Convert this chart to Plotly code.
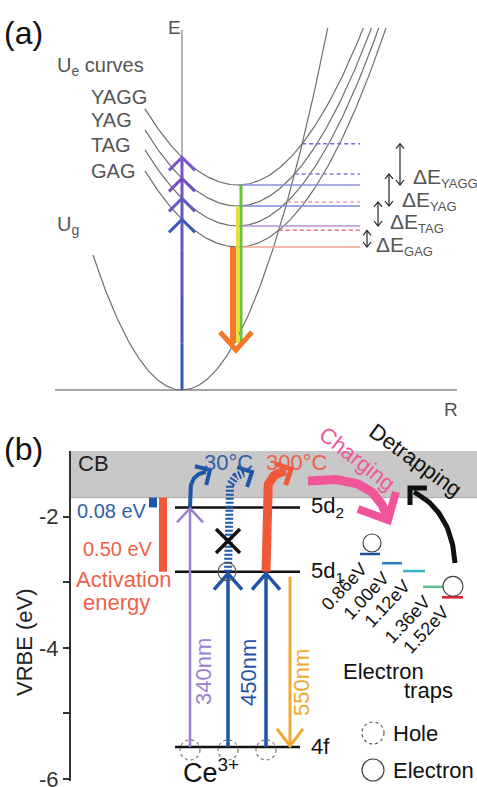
import numpy as np
import plotly.graph_objects as go

W, H = 477, 787
FONT = "Liberation Sans, Arial, sans-serif"

# ---------------- data ----------------
# (a) configuration-coordinate diagram (arbitrary units, measured from the Ug minimum)
ue_labels = ["YAGG", "YAG", "TAG", "GAG"]
ue_min_E = [205, 184, 164, 143]          # energies of the Ue minima
ue_min_R = 56                            # offset of the Ue minima along R
ug_k = 0.01704                           # curvature of Ug
ue_k_left = 0.0088                       # curvature of Ue (left branch)
ue_k_right = 0.0100                      # curvature of Ue (right branch)
curve_E_max = 362
ue_R_start = -37
ug_R_start = -89

# (b) VRBE scheme of Ce3+ (eV)
vrbe_range = [-6.03, -1.0]
vrbe_tickvals = [-6, -4, -2]
vrbe_ticktext = ["-6", "-4", "-2"]
vrbe_minor = [-5, -3]
cb_bottom = -1.71
level_names = ["5d<sub>2</sub>", "5d<sub>1</sub>", "4f"]
level_E = [-1.86, -2.84, -5.51]
trap_depths = [0.86, 1.00, 1.12, 1.36, 1.52]
trap_labels = ["0.86eV", "1.00eV", "1.12eV", "1.36eV", "1.52eV"]
activation_labels = ["0.08 eV", "0.50 eV"]
wavelength_labels = ["340nm", "450nm", "550nm"]
temperature_labels = ["30°C", "300°C"]

# ---------------- styles ----------------
GRAY_TXT = "#555555"
CURVE = "#6e6e6e"
solid_level_colors = ["#9090dc", "#8086d4", "#b592d8", "#f2a488"]
dash_level_colors = ["#6c70cc", "#7b80d2", "#e59ab8", "#e5748e"]
chev_colors = ["#7d55c6", "#7451c2", "#5f5bc0", "#3f5cb4"]
trap_colors = ["#1f4e9a", "#2a78c0", "#38b2c0", "#5cc08c", "#e0202a"]
BLUE = "#1f55a8"
BLUE_TXT = "#2f5fa8"
PURPLE = "#9b80d2"
ORANGE = "#f0a830"
RED = "#f0583a"
RED_TXT = "#f0604a"
PINK = "#f0559a"

# pixel geometry helpers
A_X0, A_Y0 = 182, 390           # pixel of the Ug minimum in panel (a)
B_TOP, B_BOT = 451, 781         # pixel extent of the VRBE axis


def eb(py):
    return vrbe_range[1] - (py - B_TOP) * (vrbe_range[1] - vrbe_range[0]) / (B_BOT - B_TOP)


def pyb(e):
    return B_TOP + (vrbe_range[1] - e) * (B_BOT - B_TOP) / (vrbe_range[1] - vrbe_range[0])


fig = go.Figure()


def add_line(xs, ys, color, width, panel, dash=None):
    fig.add_trace(go.Scatter(
        x=list(xs), y=list(ys), mode="lines",
        line=dict(color=color, width=width, dash=dash),
        xaxis="x" if panel == "a" else "x2", yaxis="y" if panel == "a" else "y2",
        hoverinfo="skip", showlegend=False))


def add_px(pts, color, width, panel, dash=None):
    if panel == "a":
        xs = [p[0] - A_X0 for p in pts]
        ys = [A_Y0 - p[1] for p in pts]
    else:
        xs = [p[0] for p in pts]
        ys = [eb(p[1]) for p in pts]
    add_line(xs, ys, color, width, panel, dash)


def chevron(tip, d, half, depth):
    dx, dy = d
    L = np.hypot(dx, dy)
    dx, dy = dx / L, dy / L
    nx, ny = -dy, dx
    bx, by = tip[0] - depth * dx, tip[1] - depth * dy
    return [(bx + half * nx, by + half * ny), tip, (bx - half * nx, by - half * ny)]


def bezier(p0, p1, p2, n=40):
    t = np.linspace(0, 1, n)
    x = (1 - t) ** 2 * p0[0] + 2 * (1 - t) * t * p1[0] + t ** 2 * p2[0]
    y = (1 - t) ** 2 * p0[1] + 2 * (1 - t) * t * p1[1] + t ** 2 * p2[1]
    return list(zip(x, y))


def text(s, px, py, size, color, xanchor="center", yanchor="middle", angle=0):
    fig.add_annotation(text=s, x=px / W, y=1 - py / H, xref="paper", yref="paper",
                       showarrow=False, xanchor=xanchor, yanchor=yanchor,
                       textangle=angle, font=dict(size=size, color=color, family=FONT))


def circle_b(cx, cy, r, color, dash="solid", width=1.2):
    fig.add_shape(type="circle", xref="x2", yref="y2",
                  x0=cx - r, x1=cx + r, y0=eb(cy + r), y1=eb(cy - r),
                  line=dict(color=color, width=width, dash=dash), layer="above")


# ================= panel (a) =================
def ue(R, Emin):
    R = np.asarray(R, dtype=float)
    return np.where(R < ue_min_R, Emin + ue_k_left * (R - ue_min_R) ** 2,
                    Emin + ue_k_right * (R - ue_min_R) ** 2)


# axes
add_line([0, 0], [0, A_Y0 - 30], "#808080", 1.2, "a")
add_line([55 - A_X0, 457 - A_X0], [0, 0], "#8a8a8a", 1.5, "a")

# Ug parabola
Rg = np.linspace(ug_R_start, np.sqrt(curve_E_max / ug_k), 200)
add_line(Rg, ug_k * Rg ** 2, CURVE, 1.2, "a")

# Ue curves, crossings, levels
level_end_R = 360 - A_X0
darrow_px = [400, 389, 378, 367]
crossings = []
for i, Emin in enumerate(ue_min_E):
    R_end = ue_min_R + np.sqrt((curve_E_max - Emin) / ue_k_right)
    R = np.linspace(ue_R_start, R_end, 200)
    add_line(R, ue(R, Emin), CURVE, 1.2, "a")
    Rf = np.linspace(ue_min_R, R_end, 4000)
    diff = ug_k * Rf ** 2 - ue(Rf, Emin)
    j = np.argmax(diff > 0)
    Rc, Ec = Rf[j], float(ue(Rf[j], Emin))
    crossings.append((Rc, Ec))

for i, Emin in enumerate(ue_min_E):
    add_line([ue_min_R, level_end_R], [Emin, Emin], solid_level_colors[i], 1.5, "a")
for i, Emin in enumerate(ue_min_E):
    Rc, Ec = crossings[i]
    add_line([Rc, level_end_R], [Ec, Ec], dash_level_colors[i], 1.5, "a", dash="4px,3px")
    # Delta E double arrow
    xa = darrow_px[i]
    top, bot = A_Y0 - Ec, A_Y0 - Emin
    add_px([(xa, top), (xa, bot)], "#222222", 1.2, "a")
    add_px(chevron((xa, top), (0, -1), 4, 5), "#222222", 1.2, "a")
    add_px(chevron((xa, bot), (0, 1), 4, 5), "#222222", 1.2, "a")

# absorption arrow (vertical at R = 0)
tips_E = [float(ue(0, e)) for e in ue_min_E]
seg_cols = ["#3a57b6", "#4a55b8", "#5a53bb", "#6a52be", "#7852c2"]
edges = np.linspace(0, max(tips_E), len(seg_cols) + 1)
for k, c in enumerate(seg_cols):
    add_line([0, 0], [edges[k], edges[k + 1]], c, 3, "a")
for i, Et in enumerate(tips_E):
    add_px(chevron((A_X0, A_Y0 - Et), (0, -1), 13, 13), chev_colors[i], 3, "a")

# emission arrow
add_px([(233, A_Y0 - ue_min_E[3]), (233, 343)], "#f07a2a", 6, "a")
add_px([(237.5, A_Y0 - ue_min_E[1]), (237.5, 343)], "#e6e040", 3, "a")
add_px([(241, A_Y0 - ue_min_E[0]), (241, 343)], "#6cc040", 3, "a")
add_px(chevron((236, 350), (0, 1), 16, 18), "#f07a2a", 5, "a")

# texts (a)
text("(a)", 2, 33, 32, "#111111", xanchor="left")
text("E", 174, 27, 19, GRAY_TXT)
text("R", 451, 409, 19, GRAY_TXT)
text("U<sub>e</sub> curves", 55, 66, 20, GRAY_TXT, xanchor="left")
for i, lab in enumerate(ue_labels):
    text(lab, 89, [97, 120, 145, 171][i], 20, GRAY_TXT, xanchor="left")
text("U<sub>g</sub>", 55, 225, 20, GRAY_TXT, xanchor="left")
for i, lab in enumerate(ue_labels):
    text("ΔE<sub><span style='font-size:13px'>" + lab + "</span></sub>",
         [411, 400, 388, 374][i], [178, 201, 223, 246][i], 21, GRAY_TXT, xanchor="left")

# ================= panel (b) =================
fig.add_shape(type="rect", xref="x2", yref="y2", x0=71, x1=477,
              y0=cb_bottom, y1=vrbe_range[1], fillcolor="#c8c8c8",
              line=dict(width=0), layer="below")
add_line([71, 477], [cb_bottom, cb_bottom], "#a8a8a8", 1, "b")

# Ce levels
for i, e in enumerate(level_E):
    add_line([175, 300], [e, e], "#111111", 2.5, "b")
    text(level_names[i], 309, pyb(e), 22, "#111111", xanchor="left")

# activation energy bars
add_line([153, 153], [cb_bottom, level_E[0]], BLUE, 8, "b")
add_line([163, 163], [cb_bottom, level_E[1]], RED, 8, "b")

# excitation 340 nm (purple)
add_line([190, 190], [level_E[2], level_E[0]], PURPLE, 2.5, "b")
add_px(chevron((190, pyb(level_E[0]) + 1), (0, -1), 13, 14), PURPLE, 2.5, "b")
# excitation 450 nm (blue, two)
for xb in (228, 266):
    add_line([xb, xb], [level_E[2], level_E[1]], BLUE, 3.5, "b")
    add_px(chevron((xb, pyb(level_E[1]) + 2), (0, -1), 14, 16), BLUE, 3.5, "b")
# emission 550 nm (orange)
add_line([290, 290], [eb(pyb(level_E[1]) + 5), level_E[2]], ORANGE, 3, "b")
add_px(chevron((290, pyb(level_E[2]) - 1), (0, 1), 13, 17), ORANGE, 3, "b")

# 30 C thermal ionisation from 5d2
y2 = pyb(level_E[0])
add_px([(190, y2)] + bezier((190, y2 - 14), (190, 474), (206, 472)), BLUE, 4, "b")
add_px(chevron((210, 470), (1, -0.6), 11, 11), BLUE, 4, "b")
# hatched (blocked) path from 5d1
y1 = pyb(level_E[1])
add_px([(228, y1)] + bezier((228, 500), (228, 474), (246, 473)), BLUE, 8, "b", dash="2px,2px")
add_px(chevron((252, 472), (1, -0.5), 11, 11), BLUE, 4, "b")
# 300 C thermal ionisation from 5d1
add_px([(266, y1)] + bezier((266, 500), (266, 473), (286, 471)), RED, 9, "b")
add_px(chevron((291, 469), (1, -0.5), 12, 12), RED, 5, "b")
# blocked mark
add_px([(216, 529), (240, 553)], "#111111", 3.5, "b")
add_px([(216, 553), (240, 529)], "#111111", 3.5, "b")

# electron / hole circles on the Ce levels
circle_b(227, y1, 9, "#555555")
for xb in (190, 228, 266):
    circle_b(xb, pyb(level_E[2]) + 3, 10, "#8a7560", dash="dot")

# charging arrow (pink)
add_px(bezier((308, 481), (372, 472), (386, 514)), PINK, 9, "b")
add_px([(358, 509), (388, 520), (396, 492)], PINK, 8, "b")
# detrapping arrow (black)
add_px(bezier((455, 563), (452, 512), (414, 492)), "#111111", 5, "b")
add_px(chevron((410, 488), (-1, -1), 12, 12), "#111111", 5, "b")

# electron traps
trap_x = [(360, 380), (382, 402), (403, 425), (423, 443), (442, 463)]
for i, d in enumerate(trap_depths):
    e = cb_bottom - d
    add_line(list(trap_x[i]), [e, e], trap_colors[i], 2.5, "b")
    text(trap_labels[i], trap_x[i][0] - 16, pyb(e) + 33, 18, "#111111", angle=-47)
circle_b(372, pyb(cb_bottom - trap_depths[0]) - 11, 9, "#444444")
circle_b(453, pyb(cb_bottom - trap_depths[4]) - 11, 10, "#444444")

# texts (b)
text("(b)", 2, 449, 32, "#111111", xanchor="left")
text("CB", 76, 464, 22, "#222222", xanchor="left")
text(activation_labels[0], 75, 511, 20, BLUE_TXT, xanchor="left")
text(activation_labels[1], 81, 549, 20, RED_TXT, xanchor="left")
text("Activation", 124, 579, 22, RED_TXT)
text("energy", 116, 602, 22, RED_TXT)
text(temperature_labels[0], 228, 462, 22, BLUE_TXT)
text(temperature_labels[1], 297, 462, 22, RED_TXT)
text("Charging", 357, 458, 22, PINK, angle=38)
text("Detrapping", 416, 460, 22, "#111111", angle=36)
text(wavelength_labels[0], 203, 672, 22, PURPLE, angle=-90)
text(wavelength_labels[1], 248, 672, 22, BLUE, angle=-90)
text(wavelength_labels[2], 301, 683, 22, ORANGE, angle=-90)
text("Electron", 383, 671, 22, "#111111")
text("traps", 428, 690, 22, "#111111")
fig.add_shape(type="circle", xref="paper", yref="paper",
              x0=362 / W, x1=384 / W, y0=1 - 744 / H, y1=1 - 722 / H,
              line=dict(color="#555555", width=1.2, dash="dot"))
fig.add_shape(type="circle", xref="paper", yref="paper",
              x0=362 / W, x1=384 / W, y0=1 - 781 / H, y1=1 - 759 / H,
              line=dict(color="#444444", width=1.2))
text("Hole", 391, 733, 22, "#111111", xanchor="left")
text("Electron", 391, 770, 22, "#111111", xanchor="left")
text("Ce<sup>3+</sup>", 211, 771, 27, "#111111")
text("VRBE (eV)", 24, 642, 22, "#222222", angle=-90)

fig.update_layout(
    width=W, height=H, autosize=False, margin=dict(l=0, r=0, t=0, b=0, pad=0),
    paper_bgcolor="white", plot_bgcolor="white", showlegend=False,
    xaxis=dict(domain=[0, 1], range=[-A_X0, W - A_X0], visible=False, fixedrange=True),
    yaxis=dict(domain=[1 - 400 / H, 1], range=[A_Y0 - 400, A_Y0], visible=False, fixedrange=True),
    xaxis2=dict(domain=[71 / W, 1], range=[71, W], visible=False, fixedrange=True),
    yaxis2=dict(domain=[(H - B_BOT) / H, (H - B_TOP) / H], range=vrbe_range, anchor="x2",
                showline=True, linecolor="#333333", linewidth=2,
                ticks="outside", ticklen=6, tickwidth=2, tickcolor="#333333",
                tickvals=vrbe_tickvals, ticktext=vrbe_ticktext,
                ticklabeloverflow="allow", automargin=False,
                minor=dict(tickvals=vrbe_minor, ticks="outside", ticklen=6,
                           tickwidth=2, tickcolor="#333333", showgrid=False),
                tickfont=dict(size=22, color="#333333", family=FONT),
                showgrid=False, zeroline=False, fixedrange=True),
)

fig.write_html("out.html", config={"displayModeBar": False, "responsive": False},
               post_script="document.body.style.margin='0';document.body.style.overflow='hidden';")
